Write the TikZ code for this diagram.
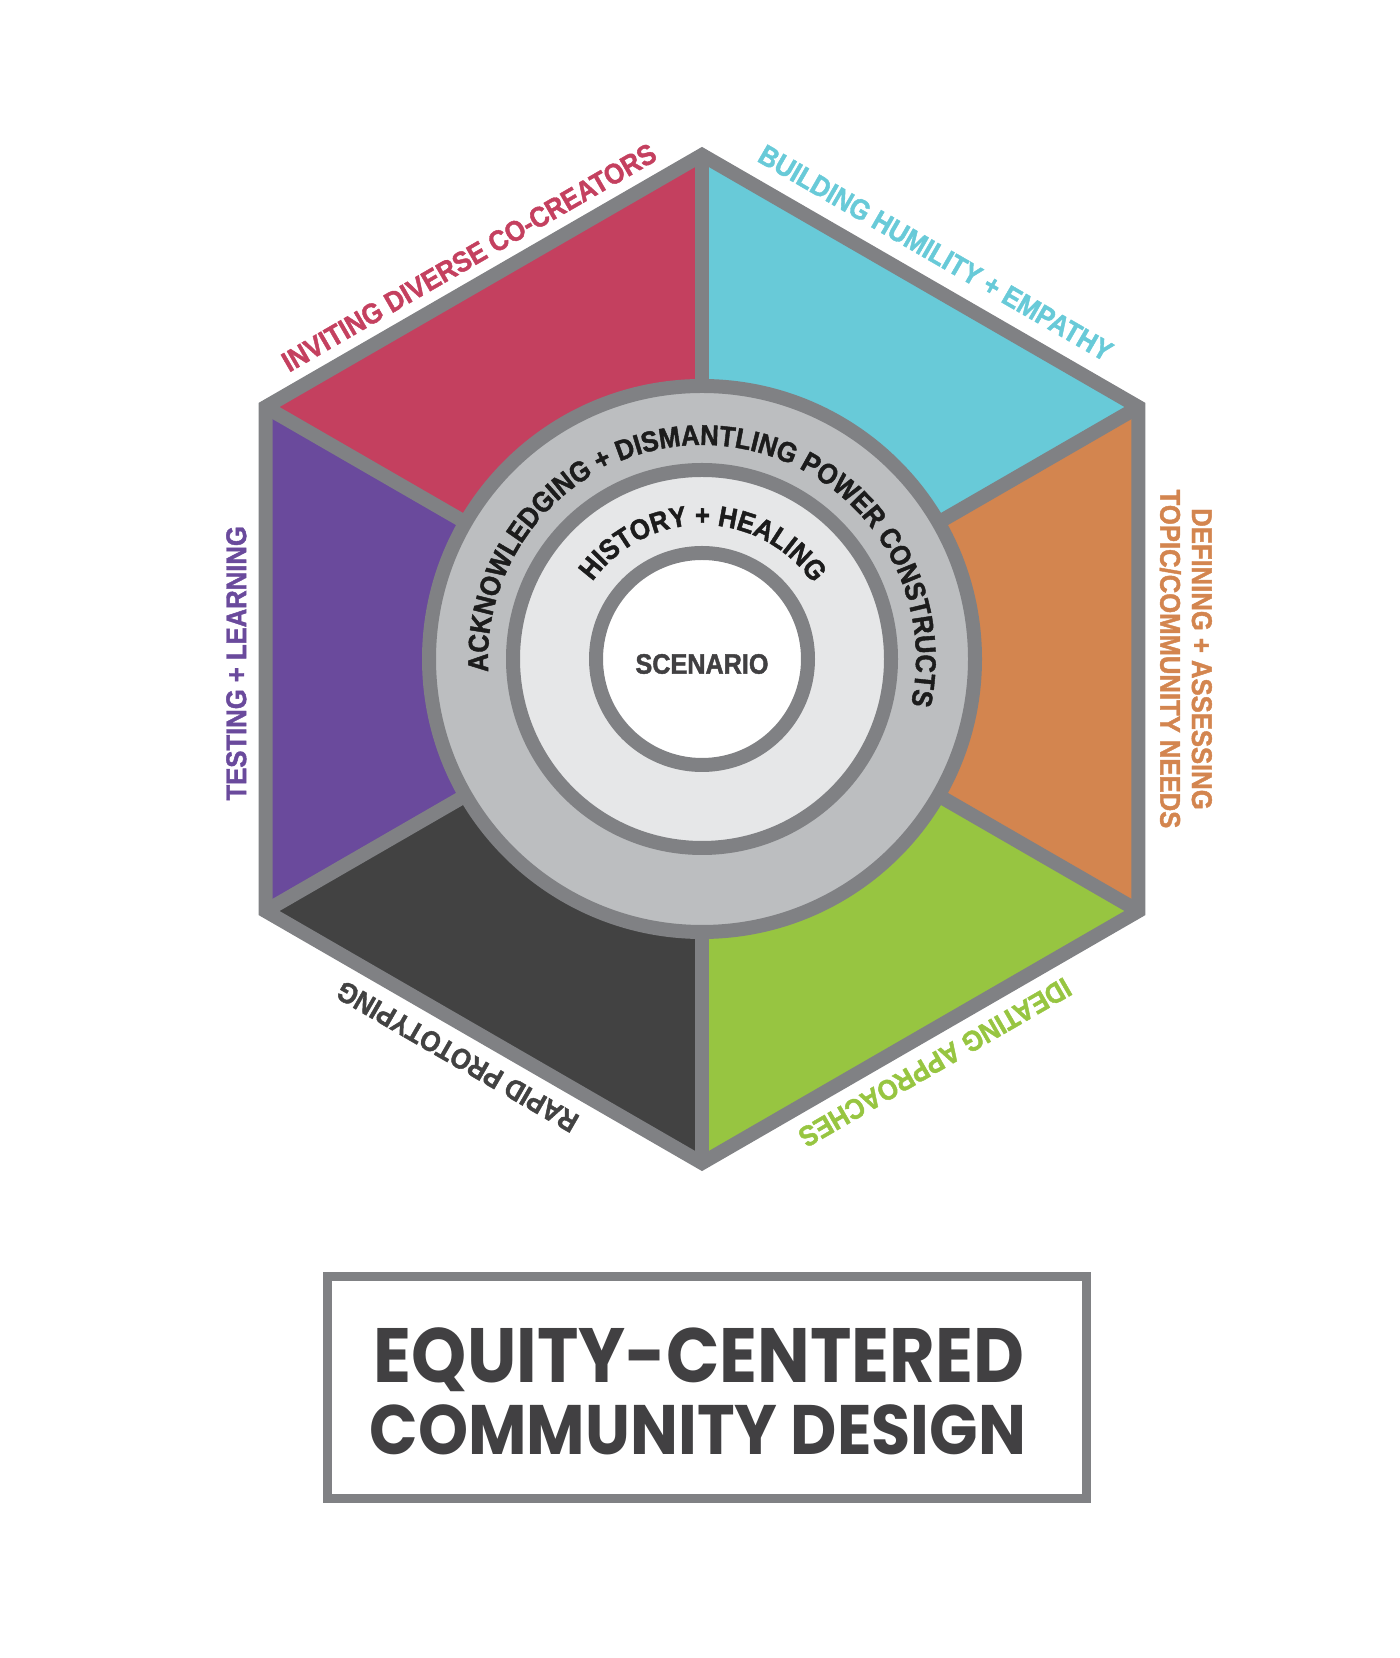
\documentclass[tikz,border=0pt]{standalone}
\usepackage{fontspec}
\usetikzlibrary{decorations.text}

\newfontfamily\labelfont{Liberation Sans}[FakeStretch=0.9, FakeBold=1.5]
\newfontfamily\titlefont{Poppins}[FakeStretch=0.91]

\definecolor{rimgray}{HTML}{808184}
\definecolor{ringgray}{HTML}{BCBEC0}
\definecolor{palegray}{HTML}{E6E7E8}
\definecolor{rose}{HTML}{C4405F}
\definecolor{aqua}{HTML}{68CAD8}
\definecolor{amber}{HTML}{D3854F}
\definecolor{lime}{HTML}{97C541}
\definecolor{coal}{HTML}{424242}
\definecolor{plum}{HTML}{6A4A9C}
\definecolor{ink}{HTML}{1C1C1C}
\definecolor{slate}{HTML}{414042}

\tikzset{
    rim/.style={draw=rimgray, line width=14pt, line join=miter},
    edgelabel/.style={font=\labelfont\bfseries\fontsize{28.5}{31.7}\selectfont, inner sep=0pt},
}

\begin{document}
\begin{tikzpicture}[x=1pt,y=1pt]
    \useasboundingbox (0,0) rectangle (1400,1658);

    \begin{scope}[shift={(702,999)}]
    % Hexagon corners
    \foreach \i in {1,...,6}
        \coordinate (v\i) at (30+60*\i:504);

    % Coloured sectors
    \foreach \i/\j/\c in {1/2/rose, 2/3/plum, 3/4/coal, 4/5/lime, 5/6/amber, 6/1/aqua}
        \fill[\c] (0,0) -- (v\i) -- (v\j) -- cycle;

    \foreach \i in {1,...,6} \draw[rim] (0,0) -- (v\i);
    \draw[rim] (v1)--(v2)--(v3)--(v4)--(v5)--(v6)--cycle;

    % Rings
    \draw[rim, fill=ringgray] (0,0) circle (273);
    \draw[rim, fill=palegray] (0,0) circle (189);
    \draw[rim, fill=white] (0,0) circle (106);
    \node[font=\labelfont\bfseries\fontsize{28}{30}\selectfont, text=slate, inner sep=0pt] (scenario) at (0,-5) {SCENARIO};

    \path[decorate, decoration={text along path, text align=center,
        text={|\labelfont\bfseries\fontsize{28.5}{30}\selectfont\color{ink}|ACKNOWLEDGING + DISMANTLING POWER CONSTRUCTS}}]
        (195.5:214) arc[start angle=195.5, end angle=-24.5, radius=214];
    \path[decorate, decoration={text along path, text align=center,
        text={|\labelfont\bfseries\fontsize{28.5}{30}\selectfont\color{ink}|HISTORY + HEALING}}]
        (164.5:134) arc[start angle=164.5, end angle=14.5, radius=134];

    % Edge labels
    \node[edgelabel, text=rose, rotate=30] (inviting) at (-233,401.5) {INVITING DIVERSE CO-CREATORS};
    \node[edgelabel, text=aqua, rotate=-30] (building) at (233.7,406) {BUILDING HUMILITY + EMPATHY};
    \node[edgelabel, text=amber, rotate=-90, align=center] (defining) at (483.8,0) {DEFINING + ASSESSING\\TOPIC/COMMUNITY NEEDS};
    \node[edgelabel, text=lime, rotate=210] (ideating) at (233,-403.5) {IDEATING APPROACHES};
    \node[edgelabel, text=coal, rotate=150] (rapid) at (-244.5,-397.7) {RAPID PROTOTYPING};
    \node[edgelabel, text=plum, rotate=90] (testing) at (-465.7,-4.3) {TESTING + LEARNING};
    \end{scope}

    % Title
    \node[draw=rimgray, line width=9pt, minimum width=759pt, minimum height=222pt] (titlebox) at (706.5,270) {};
    \node[font=\titlefont\bfseries\fontsize{77}{80}\selectfont, text=slate, inner sep=0pt, anchor=base] (eqline) at (699,275) {EQUITY-CENTERED};
    \node[font=\titlefont\bfseries\fontsize{70}{72}\selectfont, text=slate, inner sep=0pt, anchor=base] (cdline) at (698,203) {COMMUNITY DESIGN};
\end{tikzpicture}
\end{document}
